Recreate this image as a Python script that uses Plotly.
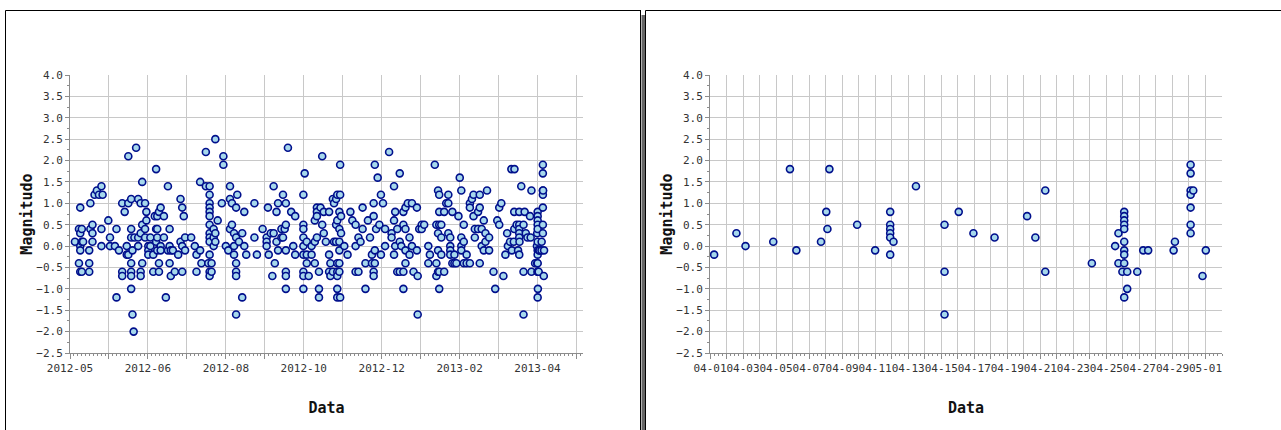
import pandas as pd
import plotly.graph_objects as go

# ======================================================
# Data
# ======================================================

start_year = "2012-05-01"
start_april = "2013-04-01"

# days after 2012-05-01, one entry per date; magnitudes recorded on that date
left_day = [
    3.8, 6.9, 7.9, 9.1, 10.1, 14.8, 15.7, 17.3, 18.9, 20.7, 22.3, 24.2, 25.1,
    29.5, 30.8, 34.6, 35.8, 37.7, 40.2, 42.1, 43.7, 44.9, 47.1, 48.1, 49.0,
    49.6, 50.9, 52.5, 54.4, 55.6, 57.8, 58.8, 60.3, 61.9, 64.1, 65.3, 66.3,
    67.2, 68.5, 69.8, 72.3, 73.8, 75.4, 76.7, 77.6, 79.2, 80.7, 83.3, 85.1,
    86.4, 87.6, 88.6, 93.3, 96.1, 97.4, 100.2, 101.2, 104.6, 106.5, 107.5,
    109.0, 110.6, 111.9, 113.7, 116.9, 118.1, 120.0, 121.9, 123.2, 124.7,
    126.3, 127.9, 128.8, 130.1, 132.6, 134.2, 135.7, 142.0, 143.9, 148.3,
    151.4, 152.4, 153.0, 154.6, 155.8, 156.8, 157.7, 159.0, 160.2, 162.8,
    164.0, 165.3, 166.2, 167.8, 170.3, 171.9, 173.4, 179.7, 180.7, 182.3,
    183.8, 186.0, 188.5, 190.1, 191.7, 192.9, 194.2, 195.4, 197.0, 199.5,
    200.5, 202.4, 203.3, 204.9, 205.8, 207.4, 208.0, 208.7, 211.2, 213.7,
    215.9, 217.4, 219.9, 222.1, 223.7, 225.3, 227.5, 229.4, 231.0, 232.5,
    233.8, 234.7, 235.7, 236.9, 238.2, 239.4, 241.0, 242.6, 245.7, 247.6,
    249.5, 250.4, 252.0, 253.9, 255.1, 256.7, 258.3, 260.1, 261.4, 263.3,
    264.5, 267.1, 267.7, 268.9, 270.8, 272.7, 275.9, 277.1, 280.9, 282.1,
    283.4, 284.3, 285.9, 288.1, 289.7, 291.3, 292.8, 294.4, 296.0, 297.5,
    299.1, 300.1, 301.3, 303.2, 305.4, 307.9, 309.5, 310.7, 311.7, 314.2,
    315.5, 317.0, 318.6, 319.9, 321.1, 322.7, 326.1, 327.4, 329.0, 330.5,
    332.1, 333.7,
]

left_mag = [
    [0.1], [-0.4, 0.4], [0.9, 0.3, 0.0, -0.1, -0.6], [0.4, 0.1, -0.6], [0.1],
    [-0.1, -0.4, -0.6], [1.0, 0.4], [0.5, 0.3, 0.1], [1.2], [1.3], [1.2],
    [1.4, 0.4, 0.0], [1.2],
    [0.6], [0.2, 0.0], [0.0], [0.4, -1.2], [-0.1], [1.0, -0.6, -0.7], [0.8],
    [-0.2, 0.0], [2.1, 1.0, -0.2], [1.1, 0.4, 0.2, -0.4, -0.6, -0.7, -1.0],
    [-1.6, -0.1], [-2.0],
    [0.2], [2.3], [1.1, 0.2, 0.0], [1.0, 0.3, -0.6, -0.7], [1.5, 0.5, -0.4],
    [1.0, 0.4, 0.2], [0.8, 0.6], [0.0, -0.1, -0.2], [0.2, 0.0], [-0.2, -0.6],
    [0.7], [1.8, 0.4, 0.1],
    [0.7, 0.4, 0.2, -0.1], [0.8, -0.4, -0.6], [0.9, 0.0, -0.1], [0.7, 0.2],
    [-1.2], [1.4, -0.1], [0.4, 0.0, -0.4], [-0.1, -0.7], [-0.1], [-0.6],
    [-0.2], [1.1, 0.1],
    [0.9, 0.0, -0.6], [0.7], [0.2, -0.1], [0.2], [0.0], [-0.2, -0.6],
    [1.5, -0.1], [-0.4], [2.2, 1.4], [-0.4],
    [1.4, 1.2, 1.0, 0.9, 0.8, 0.7, 0.5, 0.3, 0.2, 0.1, -0.2, -0.6, -0.7],
    [-0.4, -0.6], [0.4, 0.2, 0.0], [2.5, 0.3, 0.1], [0.6], [1.0], [2.1, 1.9],
    [0.0], [-0.1], [1.4, 1.1, 0.4], [1.0, 0.5],
    [0.3, 0.0, -0.2], [0.9, 0.2, -0.4, -0.6, -0.7, -1.6], [1.2], [0.1],
    [0.3, -1.2], [0.8, 0.0], [-0.2], [1.0, 0.2], [-0.2], [0.4],
    [0.2, 0.1, 0.0], [0.9], [-0.2], [0.3], [-0.7], [1.4, 0.3], [-0.4],
    [0.8, 0.1], [1.0, -0.1], [0.4, 0.2],
    [1.2, 0.2], [0.4], [1.0, 0.5, -0.1, -0.6, -0.7, -1.0], [2.3], [0.8], [0.0],
    [0.7, -0.2], [1.2, 0.5, 0.4, 0.2, 0.0, -0.2, -0.6, -0.7, -1.0], [1.7],
    [0.1, -0.2, -0.4],
    [-0.7], [0.0, -0.2], [0.6, 0.1, -0.4], [0.9, 0.8, 0.7, 0.2],
    [-0.6, -1.0, -1.2], [0.9], [2.1, 0.5], [0.8, 0.3], [0.1],
    [0.8, -0.2, -0.6],
    [-0.4, -0.7], [1.1, -0.6], [1.0, 0.1], [1.1, 0.5, 0.1],
    [1.2, 0.6, -0.4, -0.6, -0.7, -1.0, -1.2],
    [0.8, 0.4, 0.1, -0.1, -0.4, -0.6], [1.9, 1.2, -1.2], [0.7, 0.3], [0.0],
    [-0.2],
    [0.8], [0.6], [0.5, 0.0, -0.6], [0.2, -0.6], [0.1], [0.9, 0.4],
    [-0.4, -1.0], [0.6], [0.2], [-0.2, -0.4],
    [1.0, 0.7, -0.6, -0.7], [1.9, -0.1, -0.4], [0.4], [1.6], [0.5],
    [1.2, -0.2], [1.0], [0.4, 0.0], [2.2], [0.3, 0.2],
    [1.4, 0.6, -0.2], [0.8, 0.0], [0.4, -0.6], [1.7, 0.1, -0.6], [0.0],
    [0.8, 0.5, -0.6, -1.0], [0.9, 0.4, -0.1, -0.4], [1.0], [0.2, -0.2],
    [1.0, 0.0],
    [-0.6], [0.9, -0.1], [-0.7, -1.6], [0.4], [0.5, 0.4], [0.5], [0.0, -0.4],
    [-0.2], [1.9], [0.5, -0.4, -0.7],
    [1.3, 0.3, -0.1, -0.6], [1.2, 0.8, 0.5, -0.6, -1.0], [0.5, 0.2, -0.2],
    [0.8, -0.6], [1.0], [1.2, 1.0, 0.3], [0.2, 0.0, -0.1, -0.2], [0.8, -0.4],
    [-0.2, -0.4], [-0.4],
    [0.7], [1.6], [1.3, 0.2, 0.0, -0.1], [0.5, 0.1, -0.4], [-0.2, -0.4],
    [1.0, 0.9, -0.4], [1.1], [1.2, 0.7], [0.4, 0.2], [0.8, 0.4],
    [1.2, 0.9, -0.4], [0.4, 0.0], [0.6, -0.1], [0.3, 0.1], [1.3], [0.2, -0.1],
    [-0.6], [-1.0], [0.6], [0.9, 0.5],
    [1.0], [-0.7],
]

# days after 2013-04-01
april_day = [
    0.25, 1.6, 2.15, 3.83, 4.84, 5.23, 6.72, 7.04, 7.11, 7.23, 8.91, 10.0,
    10.91, 11.11, 12.47, 14.2, 15.06, 15.95, 17.23, 19.2, 19.7, 20.3, 23.12,
    24.53, 24.73, 24.97, 25.08, 25.26, 25.87, 26.23, 26.53, 28.07, 28.15,
    29.1, 29.26, 29.82, 30.02,
]

april_mag = [
    [-0.2], [0.3], [0.0], [0.1], [1.8], [-0.1], [0.1], [0.8], [0.4], [1.8],
    [0.5], [-0.1],
    [0.8, 0.5, 0.4, 0.3, 0.2, -0.2], [0.1], [1.4], [0.5, -0.6, -1.6], [0.8],
    [0.3], [0.2], [0.7], [0.2], [1.3, -0.6], [-0.4],
    [0.0], [0.3, -0.4], [-0.6],
    [0.8, 0.7, 0.6, 0.5, 0.4, 0.1, -0.1, -0.2, -0.4, -1.2], [-0.6, -1.0],
    [-0.6], [-0.1], [-0.1], [-0.1], [0.1],
    [1.9, 1.7, 1.3, 1.2, 0.9, 0.5, 0.3], [1.3], [-0.7], [-0.1],
]

left_tick_labels = ["2012-05", "2012-06", "2012-08", "2012-10",
                    "2012-12", "2013-02", "2013-04"]
right_tick_labels = ["04-01", "04-03", "04-05", "04-07", "04-09", "04-11",
                     "04-13", "04-15", "04-17", "04-19", "04-21", "04-23",
                     "04-25", "04-27", "04-29", "05-01"]
y_ticks = [-2.5, -2.0, -1.5, -1.0, -0.5, 0.0, 0.5, 1.0, 1.5, 2.0, 2.5, 3.0,
           3.5, 4.0]


def expand(base, days, mags):
    xs, ys = [], []
    for d, group in zip(days, mags):
        for m in group:
            xs.append(pd.Timestamp(base) + pd.to_timedelta(d, unit="D"))
            ys.append(m)
    return xs, ys


lx, ly = expand(start_year, left_day, left_mag)
ax, ay = expand(start_april, april_day, april_mag)

# ======================================================
# Figure
# ======================================================

W, H = 1281, 430
FONT = "DejaVu Sans Mono"

marker = dict(size=7, color="#a6d8ec", line=dict(color="#000f8c", width=1.6))

fig = go.Figure()
fig.add_trace(go.Scatter(x=lx + ax, y=ly + ay, mode="markers",
                         marker=marker, xaxis="x", yaxis="y",
                         showlegend=False))
fig.add_trace(go.Scatter(x=ax, y=ay, mode="markers",
                         marker=marker, xaxis="x2", yaxis="y2",
                         showlegend=False))

# tick positions: every 30 days on the left, every day on the right
left_grid = pd.date_range(start_year, periods=14, freq="30D")
left_text = []
for i in range(len(left_grid)):
    left_text.append(left_tick_labels[i // 2] if i % 2 == 0 else "")

right_grid = pd.date_range(start_april, periods=31, freq="D")
right_text = []
for i in range(len(right_grid)):
    right_text.append(right_tick_labels[i // 2] if i % 2 == 0 else "")

grid = "#c8c8c8"
tick_font = dict(family=FONT, size=11, color="#333333")
title_font = dict(family=FONT, size=15, color="#111111", weight="bold")

common_x = dict(
    showgrid=True, gridcolor=grid, gridwidth=1,
    showline=True, linecolor="#8c8c8c", linewidth=1,
    ticks="outside", ticklen=5, tickcolor="#8c8c8c",
    tickfont=tick_font, tickangle=0, zeroline=False, automargin=False,
    title=dict(text="Data", font=title_font, standoff=28),
)
common_y = dict(
    range=[-2.5, 4.0], tickvals=y_ticks, tickformat=".1f",
    showgrid=True, gridcolor=grid, gridwidth=1,
    showline=True, linecolor="#8c8c8c", linewidth=1,
    ticks="outside", ticklen=4, tickcolor="#8c8c8c",
    tickfont=tick_font, zeroline=False, automargin=False,
    minor=dict(dtick=0.25, ticklen=2, tickcolor="#8c8c8c", showgrid=False),
    title=dict(text="Magnitudo", font=title_font, standoff=0),
)

y0 = 1 - 353 / H
y1 = 1 - 75 / H

fig.update_layout(
    width=W, height=H,
    margin=dict(l=0, r=0, t=0, b=0, autoexpand=False),
    paper_bgcolor="white", plot_bgcolor="white",
    xaxis=dict(common_x, domain=[70 / W, 583 / W], type="date",
               range=[pd.Timestamp(start_year),
                      pd.Timestamp(start_year) + pd.Timedelta(days=395)],
               tickvals=left_grid, ticktext=left_text,
               minor=dict(tick0=start_year, dtick=3 * 86400000, ticklen=2,
                          tickcolor="#8c8c8c", showgrid=False)),
    yaxis=dict(common_y, domain=[y0, y1], anchor="x"),
    xaxis2=dict(common_x, domain=[710 / W, 1222 / W], type="date",
                anchor="y2",
                range=[pd.Timestamp(start_april),
                       pd.Timestamp(start_april) + pd.Timedelta(days=31)],
                tickvals=right_grid, ticktext=right_text,
                minor=dict(tick0=start_april, dtick=6 * 3600000, ticklen=2,
                           tickcolor="#8c8c8c", showgrid=False)),
    yaxis2=dict(common_y, domain=[y0, y1], anchor="x2"),
)

# ======================================================
# Panel frames
# ======================================================


def px_line(xa, ya, xb, yb, color="black", width=1):
    fig.add_shape(type="line", xref="paper", yref="paper",
                  x0=xa / W, y0=1 - ya / H, x1=xb / W, y1=1 - yb / H,
                  line=dict(color=color, width=width))


px_line(5.5, 10.5, 641, 10.5)
px_line(5.5, 10.5, 5.5, H)
px_line(640.5, 10.5, 640.5, H)
fig.add_shape(type="rect", xref="paper", yref="paper",
              x0=641.5 / W, x1=645 / W, y0=0, y1=1 - 15 / H,
              fillcolor="#666666", line=dict(width=0))
px_line(645.5, 10.5, W, 10.5)
px_line(645.5, 10.5, 645.5, H)

fig.write_html("out.html", config={"displayModeBar": False},
               post_script="document.body.style.margin='0';")
